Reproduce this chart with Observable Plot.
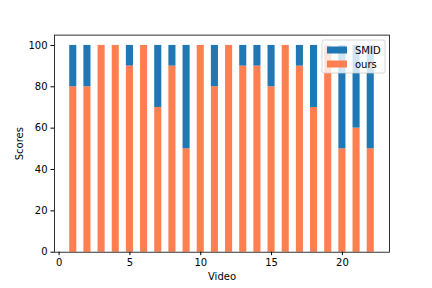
<!DOCTYPE html>
<html>
<head>
<meta charset="utf-8">
<script src="https://cdn.jsdelivr.net/npm/d3@7"></script>
<script src="https://cdn.jsdelivr.net/npm/@observablehq/plot@0.6"></script>
<style>
html, body { margin: 0; padding: 0; background: #fff; }
#chart { position: relative; width: 432px; height: 288px; }
</style>
</head>
<body>
<div id="chart"></div>
<script>
const videos = [1,2,3,4,5,6,7,8,9,10,11,12,13,14,15,16,17,18,19,20,21,22];
const ours   = [80,80,100,100,90,100,70,90,50,100,80,100,90,90,80,100,90,70,100,50,60,50];
const smid   = [20,20,0,0,10,0,30,10,50,0,20,0,10,10,20,0,10,30,0,50,40,50];
const seriesNames = ["SMID", "ours"];
const seriesColors = ["#1f77b4", "#ff7f50"];
const xTicks = [0,5,10,15,20];
const yTicks = [0,20,40,60,80,100];

const barWidth = 0.5;
const rows = [];
videos.forEach((v, i) => {
  rows.push({video: v, series: "ours", y1: 0, y2: ours[i]});
  rows.push({video: v, series: "SMID", y1: ours[i], y2: ours[i] + smid[i]});
});

const W = 432, H = 288;
const mL = 54, mR = 43, mT = 34.6, mB = 36.3;

const plot = Plot.plot({
  width: W, height: H,
  marginLeft: mL, marginRight: mR, marginTop: mT, marginBottom: mB,
  style: {fontFamily: "DejaVu Sans", fontSize: "10px", color: "#000", background: "#fff"},
  x: {domain: [-0.325, 23.325], ticks: xTicks, label: null},
  y: {domain: [0, 105], ticks: yTicks, label: null},
  color: {domain: seriesNames, range: seriesColors},
  marks: [
    Plot.rectY(rows, {
      x1: d => d.video - barWidth / 2,
      x2: d => d.video + barWidth / 2,
      y1: "y1", y2: "y2",
      fill: "series"
    }),
    Plot.axisX({ticks: xTicks, tickSize: 3.5, tickPadding: 3.5, label: "Video", labelAnchor: "center", labelArrow: "none", labelOffset: 28, fontSize: 10}),
    Plot.axisY({ticks: yTicks, tickSize: 3.5, tickPadding: 3.5, label: "Scores", labelAnchor: "center", labelArrow: "none", labelOffset: 39, fontSize: 10}),
    Plot.frame({stroke: "#000", strokeWidth: 0.8})
  ]
});
document.getElementById("chart").appendChild(plot);

// Legend (upper right, inside the axes)
const svg = d3.select(plot);
const lx = 322, ly = 40, lw = 63, lh = 33;
const g = svg.append("g").attr("text-anchor", "start");
g.append("rect").attr("x", lx).attr("y", ly).attr("width", lw).attr("height", lh)
  .attr("rx", 2).attr("fill", "#fff").attr("fill-opacity", 0.8)
  .attr("stroke", "#cccccc").attr("stroke-width", 0.8);
seriesNames.forEach((name, i) => {
  const yy = ly + 5 + i * 14;
  g.append("rect").attr("x", lx + 5).attr("y", yy + 1.5).attr("width", 20).attr("height", 7)
    .attr("fill", seriesColors[i]);
  g.append("text").attr("x", lx + 33).attr("y", yy + 5).attr("dy", "0.35em")
    .attr("text-anchor", "start")
    .attr("font-family", "DejaVu Sans").attr("font-size", 10).attr("fill", "#000")
    .text(name);
});
</script>
</body>
</html>
